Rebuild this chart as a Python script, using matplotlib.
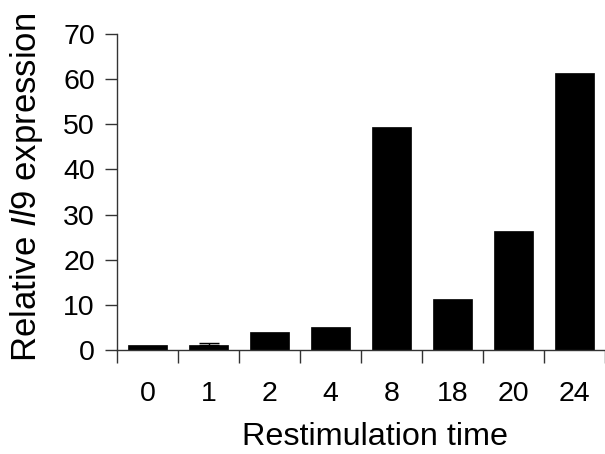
import numpy as np
import matplotlib
matplotlib.use("Agg")
import matplotlib.pyplot as plt

plt.rcParams["font.family"] = "Liberation Sans"
plt.rcParams["mathtext.fontset"] = "custom"
plt.rcParams["mathtext.rm"] = "Liberation Sans"
plt.rcParams["mathtext.it"] = "Liberation Sans:italic"

# restimulation time points (h) and relative expression
times = ["0", "1", "2", "4", "8", "18", "20", "24"]
expression = [1.1, 1.1, 4.0, 5.0, 49.5, 11.4, 26.4, 61.4]
errors = [0.0, 0.4, 0.0, 0.0, 0.0, 0.0, 0.0, 0.0]

fig = plt.figure(figsize=(6.05, 4.54), dpi=100)
ax = fig.add_axes([117 / 605, 1 - 350 / 454, 1 - 117 / 605, (350 - 34) / 454])

x = np.arange(len(times))
ax.bar(x, expression, width=0.65, color="black", edgecolor="black", linewidth=0.5, zorder=2)
ax.errorbar(x[1:2], expression[1:2], yerr=[[0], errors[1:2]], fmt="none",
            ecolor="black", elinewidth=1, capsize=7, capthick=1, zorder=3)

ax.set_xlim(-0.5, len(times) - 0.5)
ax.set_ylim(0, 70)
ax.set_yticks(range(0, 71, 10))
ax.set_xticks(x)
ax.set_xticklabels(times)
ax.set_xticks(np.arange(-0.5, len(times), 1), minor=True)

ax.spines["top"].set_visible(False)
ax.spines["right"].set_visible(False)
for s in ("left", "bottom"):
    ax.spines[s].set_linewidth(1.0)
    ax.spines[s].set_color("#333333")

ax.tick_params(axis="y", direction="out", length=9, width=1, color="#333333",
               labelsize=20.5, pad=7)
ax.tick_params(axis="x", which="major", length=0, labelsize=20.5, pad=22)
ax.tick_params(axis="x", which="minor", direction="out", length=9, width=1, color="#333333")

ax.set_xlabel("Restimulation time", fontsize=23.3)
ax.xaxis.set_label_coords(0.529, -0.228)
ax.set_ylabel(r"Relative $\mathit{Il9}$ expression", fontsize=25)
ax.yaxis.set_label_coords(-0.147, 0.516)

fig.savefig("out.png", dpi=100)
